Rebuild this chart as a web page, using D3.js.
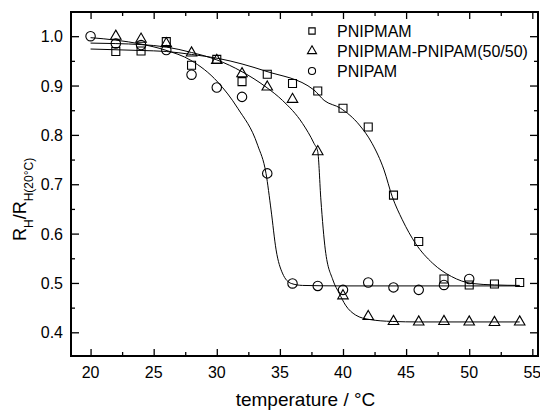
<!DOCTYPE html>
<html>
<head>
<meta charset="utf-8">
<script src="https://cdn.jsdelivr.net/npm/d3@7"></script>
<style>
body { margin: 0; background: white; }
text { font-family: Arial, "Liberation Sans", sans-serif; }
</style>
</head>
<body>
<svg id="svg_chart"></svg>
<script>
var width = 540;
var height = 410;

// measured points, PNIPMAM (squares)
var sqTemp = [22, 24, 26, 28, 30, 32, 34, 36, 38, 40, 42, 44, 46, 48, 50, 52, 54];
var sqRatio = [0.969, 0.970, 0.989, 0.941, 0.953, 0.908, 0.923, 0.904, 0.889, 0.854, 0.816, 0.678, 0.584, 0.508, 0.496, 0.498, 0.501];

// PNIPMAM-PNIPAM(50/50) (triangles)
var trTemp = [22, 24, 26, 28, 30, 32, 34, 36, 38, 40, 42, 44, 46, 48, 50, 52, 54];
var trRatio = [1.0, 0.994, 0.985, 0.966, 0.951, 0.924, 0.897, 0.872, 0.766, 0.474, 0.432, 0.422, 0.421, 0.422, 0.421, 0.420, 0.421];

// PNIPAM (circles)
var ciTemp = [20, 22, 24, 26, 28, 30, 32, 34, 36, 38, 40, 42, 44, 46, 48, 50];
var ciRatio = [1.0, 0.985, 0.982, 0.972, 0.922, 0.896, 0.877, 0.722, 0.499, 0.494, 0.486, 0.501, 0.491, 0.486, 0.496, 0.508];

// fitted curves
var sqFitTemp = [20, 24, 26, 28, 30.1, 33.9, 37.7, 38.5, 39.8, 41.3, 42.3, 43.25, 43.9, 44.7, 45.75, 47.1, 48.6, 50.2, 52, 54];
var sqFitRatio = [0.974, 0.971, 0.969, 0.963, 0.955, 0.929, 0.891, 0.870, 0.854, 0.820, 0.783, 0.729, 0.675, 0.628, 0.580, 0.540, 0.513, 0.499, 0.496, 0.495];

var trFitTemp = [20, 22, 24, 26, 28, 30, 32, 33.9, 35.2, 36.8, 37.7, 38.0, 38.25, 38.6, 39.2, 39.7, 40.2, 41.0, 42.1, 43.9, 46, 54];
var trFitRatio = [0.986, 0.985, 0.983, 0.978, 0.967, 0.952, 0.928, 0.897, 0.870, 0.823, 0.783, 0.766, 0.668, 0.567, 0.506, 0.479, 0.455, 0.435, 0.426, 0.422, 0.421, 0.421];

var ciFitTemp = [20, 22, 24, 25.9, 27.95, 30.08, 31.66, 33.24, 33.9, 34.3, 34.7, 35.2, 35.9, 36.8, 40, 54];
var ciFitRatio = [0.997, 0.992, 0.984, 0.972, 0.951, 0.907, 0.854, 0.779, 0.722, 0.648, 0.567, 0.520, 0.499, 0.495, 0.494, 0.494];

var legendNames = ["PNIPMAM", "PNIPMAM-PNIPAM(50/50)", "PNIPAM"];
var xTicks = [20, 25, 30, 35, 40, 45, 50, 55];
var yTicks = [0.4, 0.5, 0.6, 0.7, 0.8, 0.9, 1.0];

// plot frame (don't call these top/left, window.top is read only)
var pLeft = 71, pRight = 538, pTop = 12, pBottom = 356;

var xAxis = d3.scaleLinear()
	.domain([18.45, 55.45])
	.range([pLeft, pRight]);

var yAxis = d3.scaleLinear()
	.domain([0.352, 1.049])
	.range([pBottom, pTop]);

var svg = d3.select("#svg_chart")
	.attr("width", width)
	.attr("height", height);

var xMinor = d3.range(22.5, 55, 5);
var yMinor = d3.range(0.45, 1.05, 0.1).map(d => +d.toFixed(2));

// bottom + top axes, ticks pointing inside
function xTickAxis(axisFn, ticks, size) {
	return axisFn(xAxis).tickValues(ticks).tickSize(size).tickFormat("");
}
svg.append("g").attr("transform", "translate(0," + pBottom + ")").call(xTickAxis(d3.axisTop, xTicks, 7));
svg.append("g").attr("transform", "translate(0," + pBottom + ")").call(xTickAxis(d3.axisTop, xMinor, 4));
svg.append("g").attr("transform", "translate(0," + pTop + ")").call(xTickAxis(d3.axisBottom, xTicks, 7));
svg.append("g").attr("transform", "translate(0," + pTop + ")").call(xTickAxis(d3.axisBottom, xMinor, 4));

function yTickAxis(axisFn, ticks, size) {
	return axisFn(yAxis).tickValues(ticks).tickSize(size).tickFormat("");
}
svg.append("g").attr("transform", "translate(" + pLeft + ",0)").call(yTickAxis(d3.axisRight, yTicks, 8));
svg.append("g").attr("transform", "translate(" + pLeft + ",0)").call(yTickAxis(d3.axisRight, yMinor, 4));
svg.append("g").attr("transform", "translate(" + pRight + ",0)").call(yTickAxis(d3.axisLeft, yTicks, 8));
svg.append("g").attr("transform", "translate(" + pRight + ",0)").call(yTickAxis(d3.axisLeft, yMinor, 4));

svg.selectAll(".domain").remove();
svg.selectAll(".tick line").attr("stroke", "black").attr("stroke-width", 1.3);

// frame
svg.append("rect")
	.attr("x", pLeft).attr("y", pTop)
	.attr("width", pRight - pLeft).attr("height", pBottom - pTop)
	.attr("fill", "none").attr("stroke", "black").attr("stroke-width", 2);

// tick labels
svg.selectAll(".xlab").data(xTicks).enter().append("text")
	.attr("x", d => xAxis(d)).attr("y", 378)
	.attr("text-anchor", "middle").attr("font-size", 16)
	.text(d => d);

svg.selectAll(".ylab").data(yTicks).enter().append("text")
	.attr("x", 63).attr("y", d => yAxis(d) + 6)
	.attr("text-anchor", "end").attr("font-size", 16)
	.text(d => d3.format(".1f")(d));

// axis titles
svg.append("text")
	.attr("x", (pLeft + pRight) / 2 + 1).attr("y", 406)
	.attr("text-anchor", "middle").attr("font-size", 19)
	.text("temperature / °C");

var ytitle = svg.append("text")
	.attr("transform", "translate(26,241) rotate(-90)")
	.attr("font-size", 18);
ytitle.append("tspan").text("R");
ytitle.append("tspan").attr("font-size", 12).attr("dy", 7).text("H");
ytitle.append("tspan").attr("dy", -7).text("/R");
ytitle.append("tspan").attr("font-size", 12).attr("dy", 7).text("H(20°C)");

// fit lines
var line = d3.line()
	.x(d => xAxis(d[0]))
	.y(d => yAxis(d[1]))
	.curve(d3.curveMonotoneX);

[[sqFitTemp, sqFitRatio], [trFitTemp, trFitRatio], [ciFitTemp, ciFitRatio]].forEach(function (f) {
	svg.append("path")
		.attr("d", line(d3.zip(f[0], f[1])))
		.attr("fill", "none").attr("stroke", "black").attr("stroke-width", 1);
});

// symbols
var sq = d3.symbol().type(d3.symbolSquare).size(64);
var tr = d3.symbol().type(d3.symbolTriangle).size(48);
var ci = d3.symbol().type(d3.symbolCircle).size(70);

function drawMarks(xs, ys, sym) {
	svg.append("g").selectAll("path").data(d3.zip(xs, ys)).enter().append("path")
		.attr("transform", d => "translate(" + xAxis(d[0]) + "," + yAxis(d[1]) + ")")
		.attr("d", sym)
		.attr("fill", "none").attr("stroke", "black").attr("stroke-width", 1.1);
}
drawMarks(sqTemp, sqRatio, sq);
drawMarks(trTemp, trRatio, tr);
drawMarks(ciTemp, ciRatio, ci);

// legend
var legSyms = [d3.symbol().type(d3.symbolSquare).size(40), d3.symbol().type(d3.symbolTriangle).size(36), d3.symbol().type(d3.symbolCircle).size(40)];
legendNames.forEach(function (name, i) {
	var ly = 31 + i * 20;
	svg.append("path")
		.attr("transform", "translate(312," + ly + ")")
		.attr("d", legSyms[i])
		.attr("fill", "none").attr("stroke", "black").attr("stroke-width", 1.1);
	svg.append("text")
		.attr("x", 337).attr("y", ly + 6)
		.attr("font-size", 16)
		.text(name);
});
</script>
</body>
</html>
